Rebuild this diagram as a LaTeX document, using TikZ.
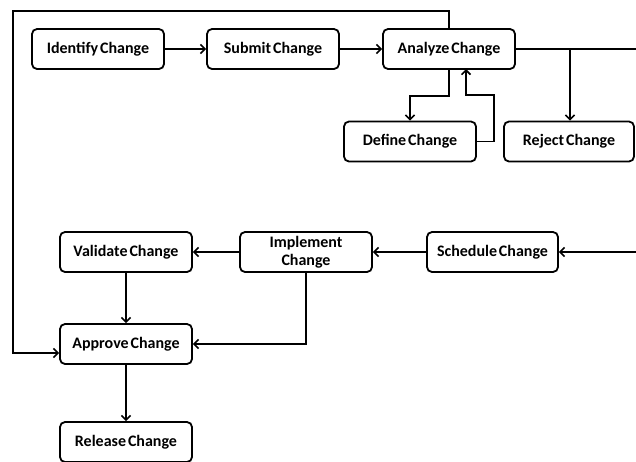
\documentclass[tikz,border=0pt]{standalone}
\usepackage{fontspec}
\setmainfont{Carlito}
\usetikzlibrary{arrows.meta}
\newcommand\stepfont{\bfseries\fontsize{16}{18}\selectfont\spaceskip=0.12em plus 0.02em\relax}
\begin{document}
\begin{tikzpicture}[x=1pt,y=-1pt,
  box/.style={draw=black,line width=1.8pt,rounded corners=5pt,fill=white,
    minimum width=132pt,minimum height=40pt,inner sep=1pt,align=center,
    font=\stepfont},
  link/.style={draw=black,line width=1.8pt,-{Straight Barb[length=4.5pt,width=9pt,line width=1.6pt]}},
  seg/.style={draw=black,line width=1.8pt}]
\useasboundingbox (0,0) rectangle (636,461);
\fill[white] (0,0) rectangle (636,461);

% process steps
\node[box] (ident) at (98,49) {Identify Change};
\node[box] (submit) at (273,49) {Submit Change};
\node[box] (analyze) at (449,49) {Analyze Change};
\node[box] (define) at (410,141.5) {Define Change};
\node[box,minimum width=130pt] (reject) at (569,141.5) {Reject Change};
\node[box] (validate) at (126,252) {Validate Change};
\node[box] (implement) at (306,252) {Implement\\Change};
\node[box,minimum width=131pt] (schedule) at (492.5,252) {Schedule Change};
\node[box] (approve) at (126,344) {Approve Change};
\node[box] (release) at (126,442) {Release Change};

% routing points
\coordinate (topL) at (13,11);
\coordinate (rightE) at (638,49);

% main flow
\draw[link] (ident) -- (submit);
\draw[link] (submit) -- (analyze);

% bypass from analysis straight to approval
\draw[link] (analyze.north) |- (topL) |- ([yshift=-9pt]approve.west);

% analysis to definition and back
\draw[link] (analyze.south) -- ++(0,26) -| (define.north);
\draw[link] (define.east) -- ++(17,0) |- (466,95) -- (466,69);

% accepted or rejected
\draw[seg] (analyze.east) -- (rightE);
\draw[link] (570,49) -- (reject.north -| 570,0);
\draw[link] (rightE) |- (schedule.east);

% delivery
\draw[link] (schedule) -- (implement);
\draw[link] (implement) -- (validate);
\draw[link] (validate) -- (approve);
\draw[link] (implement.south) |- (approve.east);
\draw[link] (approve) -- (release);
\end{tikzpicture}
\end{document}
